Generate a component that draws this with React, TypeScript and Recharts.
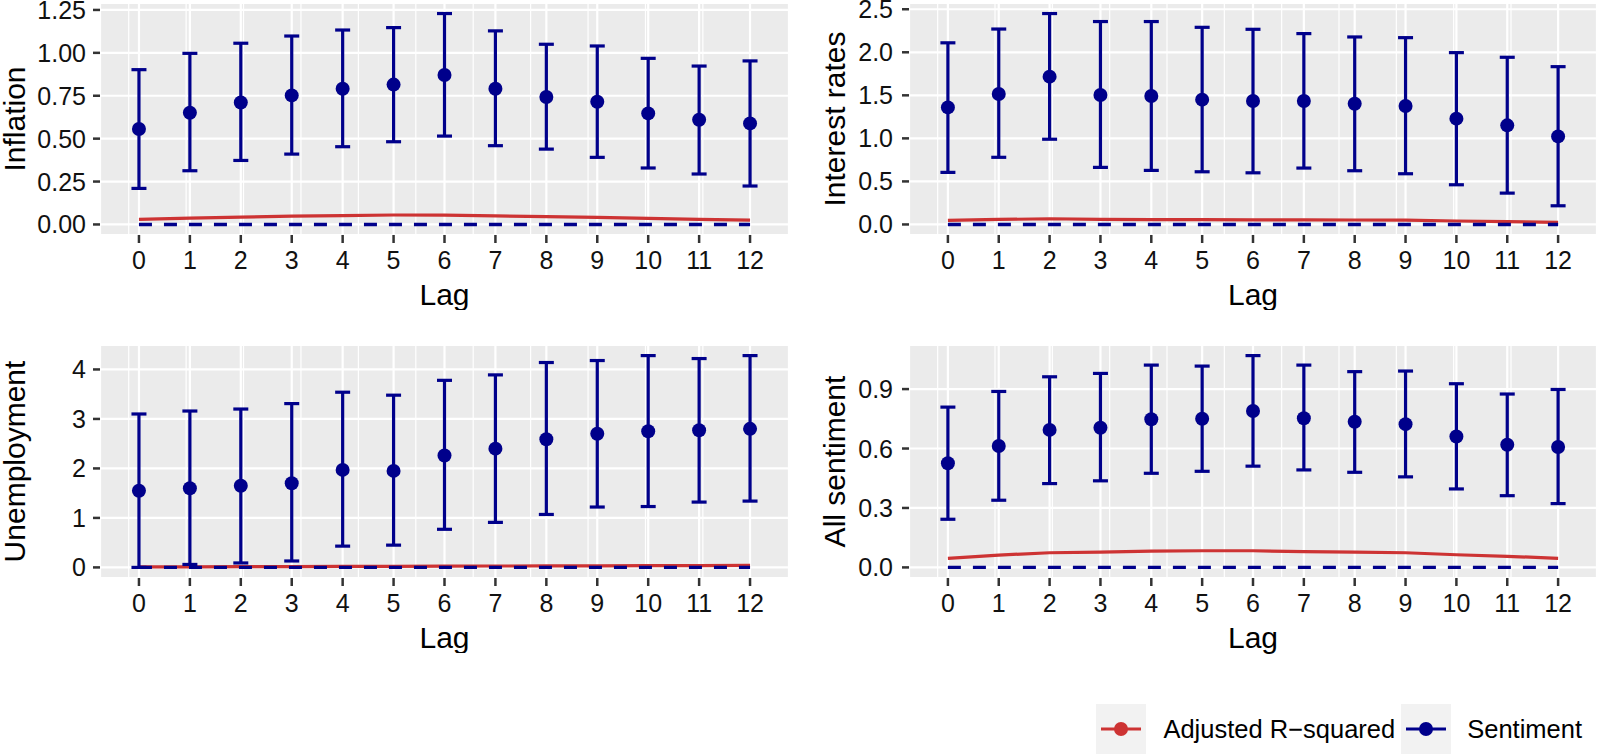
import React from 'react';
import { ComposedChart, Line, Scatter, ErrorBar, XAxis, YAxis, CartesianGrid, ReferenceLine, Legend } from 'recharts';

const LAGS = [0, 1, 2, 3, 4, 5, 6, 7, 8, 9, 10, 11, 12];

// Inflation
const INFLATION_COEF = [0.556, 0.651, 0.711, 0.752, 0.791, 0.815, 0.871, 0.791, 0.743, 0.715, 0.647, 0.61, 0.589];
const INFLATION_LOW = [0.21, 0.313, 0.373, 0.41, 0.453, 0.482, 0.515, 0.459, 0.439, 0.391, 0.329, 0.294, 0.224];
const INFLATION_HIGH = [0.902, 0.997, 1.056, 1.098, 1.133, 1.147, 1.229, 1.128, 1.05, 1.04, 0.968, 0.923, 0.953];
const INFLATION_R2 = [0.03, 0.037, 0.043, 0.048, 0.052, 0.055, 0.054, 0.05, 0.046, 0.041, 0.035, 0.03, 0.025];
const INFLATION_TICKS = [0, 0.25, 0.5, 0.75, 1, 1.25];

// Interest rates
const INTEREST_COEF = [1.36, 1.515, 1.717, 1.504, 1.492, 1.45, 1.434, 1.434, 1.403, 1.376, 1.229, 1.151, 1.023];
const INTEREST_LOW = [0.605, 0.78, 0.99, 0.663, 0.628, 0.612, 0.6, 0.655, 0.624, 0.589, 0.461, 0.364, 0.217];
const INTEREST_HIGH = [2.11, 2.27, 2.45, 2.357, 2.357, 2.29, 2.267, 2.217, 2.178, 2.17, 1.996, 1.942, 1.833];
const INTEREST_R2 = [0.047, 0.058, 0.066, 0.06, 0.057, 0.055, 0.054, 0.054, 0.052, 0.05, 0.04, 0.032, 0.025];
const INTEREST_TICKS = [0, 0.5, 1, 1.5, 2, 2.5];

// Unemployment
const UNEMP_COEF = [1.55, 1.6, 1.65, 1.7, 1.97, 1.95, 2.26, 2.4, 2.59, 2.7, 2.75, 2.77, 2.8];
const UNEMP_LOW = [0.0, 0.06, 0.09, 0.13, 0.43, 0.45, 0.77, 0.91, 1.07, 1.22, 1.23, 1.32, 1.34];
const UNEMP_HIGH = [3.1, 3.16, 3.2, 3.31, 3.54, 3.48, 3.78, 3.89, 4.14, 4.18, 4.28, 4.22, 4.28];
const UNEMP_R2 = [0.01, 0.012, 0.014, 0.016, 0.02, 0.02, 0.025, 0.028, 0.03, 0.032, 0.035, 0.037, 0.04];
const UNEMP_TICKS = [0, 1, 2, 3, 4];

// All sentiment
const ALL_COEF = [0.526, 0.613, 0.694, 0.705, 0.748, 0.75, 0.789, 0.753, 0.735, 0.723, 0.661, 0.619, 0.608];
const ALL_LOW = [0.243, 0.339, 0.423, 0.437, 0.475, 0.485, 0.511, 0.492, 0.48, 0.457, 0.396, 0.362, 0.322];
const ALL_HIGH = [0.809, 0.888, 0.962, 0.979, 1.021, 1.016, 1.069, 1.021, 0.988, 0.991, 0.927, 0.875, 0.898];
const ALL_R2 = [0.046, 0.062, 0.074, 0.077, 0.082, 0.084, 0.084, 0.08, 0.077, 0.074, 0.064, 0.056, 0.046];
const ALL_TICKS = [0, 0.3, 0.6, 0.9];

const LEGEND_ITEMS = ['Adjusted R\u2212squared', 'Sentiment'];

const RED = '#CD3333';
const BLUE = '#00008B';
const FONT = '"Liberation Sans", Arial, sans-serif';

// ggplot-style 5% expansion
const expand = (lo: number, hi: number): [number, number] => {
    const r = hi - lo;
    return [lo - 0.05 * r, hi + 0.05 * r];
};

const minorTicks = (major: number[], domain: [number, number]) => {
    const step = major[1] - major[0];
    const out: number[] = [];
    for (let v = major[0] - step / 2; v <= domain[1]; v += step) {
        if (v >= domain[0]) out.push(Math.round(v * 1e6) / 1e6);
    }
    return out;
};

// errorbar caps are 0.3 wide in data units
const X_DOMAIN = expand(LAGS[0] - 0.15, LAGS[LAGS.length - 1] + 0.15);
const X_MINOR = minorTicks(LAGS, X_DOMAIN);

const PANELS = [
    { title: 'Inflation', coef: INFLATION_COEF, low: INFLATION_LOW, high: INFLATION_HIGH, r2: INFLATION_R2, ticks: INFLATION_TICKS, digits: 2,
      left: 0, top: 0, width: 790, height: 310, margin: { top: 3, right: 1, bottom: 0, left: 0 }, yWidth: 100, tickGap: 7, titleX: 25, xHeight: 75 },
    { title: 'Interest rates', coef: INTEREST_COEF, low: INTEREST_LOW, high: INTEREST_HIGH, r2: INTEREST_R2, ticks: INTEREST_TICKS, digits: 1,
      left: 790, top: 0, width: 807, height: 310, margin: { top: 3, right: 0, bottom: 0, left: 0 }, yWidth: 119, tickGap: 9, titleX: 55, xHeight: 75 },
    { title: 'Unemployment', coef: UNEMP_COEF, low: UNEMP_LOW, high: UNEMP_HIGH, r2: UNEMP_R2, ticks: UNEMP_TICKS, digits: 0,
      left: 0, top: 330, width: 790, height: 323, margin: { top: 15, right: 1, bottom: 0, left: 0 }, yWidth: 100, tickGap: 7, titleX: 25, xHeight: 75 },
    { title: 'All sentiment', coef: ALL_COEF, low: ALL_LOW, high: ALL_HIGH, r2: ALL_R2, ticks: ALL_TICKS, digits: 1,
      left: 790, top: 330, width: 807, height: 425, margin: { top: 15, right: 0, bottom: 1, left: 0 }, yWidth: 119, tickGap: 9, titleX: 55, xHeight: 126 },
];

const XTick = (props: any) => (
    <text x={props.x} y={props.y} dy={25.5} textAnchor="middle" fill="#111" fontSize={25} fontFamily={FONT}>
        {props.payload.value}
    </text>
);

const makeYTick = (digits: number) => (props: any) => (
    <text x={props.x} y={props.y} dy={9} textAnchor="end" fill="#111" fontSize={25} fontFamily={FONT}>
        {Number(props.payload.value).toFixed(digits)}
    </text>
);

const LegendBox = () => (
    <div style={{ display: 'flex', alignItems: 'center', fontFamily: FONT, fontSize: 25.5, color: '#000', whiteSpace: 'nowrap' }}>
        {LEGEND_ITEMS.map((name, i) => {
            const color = i === 0 ? RED : BLUE;
            return (
                <div key={name} style={{ display: 'flex', alignItems: 'center' }}>
                    <svg width={50} height={50} style={{ display: 'block', background: '#F2F2F2' }}>
                        <line x1={5} x2={45} y1={25} y2={25} stroke={color} strokeWidth={3.2} />
                        <circle cx={25} cy={25} r={7} fill={color} />
                    </svg>
                    <span style={{ marginLeft: i === 0 ? 17 : 16, marginRight: i === 0 ? 6 : 0, lineHeight: '50px' }}>{name}</span>
                </div>
            );
        })}
    </div>
);

const Panel = ({ p, showLegend }: { p: any; showLegend: boolean }) => {
    const rows = LAGS.map((lag, i) => ({
        lag,
        coef: p.coef[i],
        err: [p.coef[i] - p.low[i], p.high[i] - p.coef[i]],
        r2: p.r2[i],
    }));
    const yDomain = expand(Math.min(0, ...p.low), Math.max(...p.high));
    const yMinor = minorTicks(p.ticks, yDomain);

    return (
        <div style={{ position: 'absolute', left: p.left, top: p.top }}>
            <ComposedChart width={p.width} height={p.height} data={rows} margin={p.margin}>
                <XAxis xAxisId="minor" type="number" domain={X_DOMAIN} ticks={X_MINOR} hide />
                <YAxis yAxisId="minor" type="number" domain={yDomain} ticks={yMinor} hide />
                <CartesianGrid xAxisId="minor" yAxisId="minor" fill="#EBEBEB" fillOpacity={1} stroke="#FFFFFF" strokeWidth={1.2} />
                <CartesianGrid stroke="#FFFFFF" strokeWidth={2.2} />
                <XAxis
                    dataKey="lag"
                    type="number"
                    domain={X_DOMAIN}
                    ticks={LAGS}
                    interval={0}
                    height={p.xHeight}
                    axisLine={false}
                    tickSize={8}
                    tickMargin={0}
                    tickLine={{ stroke: '#333333', strokeWidth: 2.5 }}
                    tick={<XTick />}
                    label={(lp: any) => (
                        <text x={lp.viewBox.x + lp.viewBox.width / 2} y={lp.viewBox.y + 70} textAnchor="middle" fontSize={30} fontFamily={FONT} fill="#000">
                            Lag
                        </text>
                    )}
                />
                <YAxis
                    type="number"
                    domain={yDomain}
                    ticks={p.ticks}
                    interval={0}
                    width={p.yWidth}
                    axisLine={false}
                    tickSize={7}
                    tickMargin={p.tickGap}
                    tickLine={{ stroke: '#333333', strokeWidth: 2.5 }}
                    tick={makeYTick(p.digits)}
                    label={(lp: any) => {
                        const cx = lp.viewBox.x + p.titleX;
                        const cy = lp.viewBox.y + lp.viewBox.height / 2;
                        return (
                            <text transform={`translate(${cx},${cy}) rotate(-90)`} textAnchor="middle" fontSize={30} fontFamily={FONT} fill="#000">
                                {p.title}
                            </text>
                        );
                    }}
                />
                <Line dataKey="r2" type="linear" stroke={RED} strokeWidth={3.2} dot={false} activeDot={false} isAnimationActive={false} />
                <ReferenceLine
                    segment={[{ x: LAGS[0], y: 0 }, { x: LAGS[LAGS.length - 1], y: 0 }]}
                    stroke={BLUE}
                    strokeWidth={3.4}
                    strokeDasharray="13 12"
                />
                <Scatter
                    dataKey="coef"
                    fill={BLUE}
                    isAnimationActive={false}
                    shape={(sp: any) => <circle cx={sp.cx} cy={sp.cy} r={7} fill={BLUE} />}
                >
                    <ErrorBar dataKey="err" direction="y" width={7.5} stroke={BLUE} strokeWidth={3.2} isAnimationActive={false} />
                </Scatter>
                {showLegend && (
                    <Legend
                        verticalAlign="bottom"
                        align="right"
                        content={() => <LegendBox />}
                        wrapperStyle={{ left: 'auto', right: 15, bottom: 1, width: 'auto' }}
                    />
                )}
            </ComposedChart>
        </div>
    );
};

export default function App() {
    return (
        <div style={{ position: 'absolute', left: 0, top: 0, width: 1597, height: 755, background: '#FFFFFF', fontFamily: FONT }}>
            {PANELS.map((p, i) => (
                <Panel key={p.title} p={p} showLegend={i === PANELS.length - 1} />
            ))}
        </div>
    );
}
